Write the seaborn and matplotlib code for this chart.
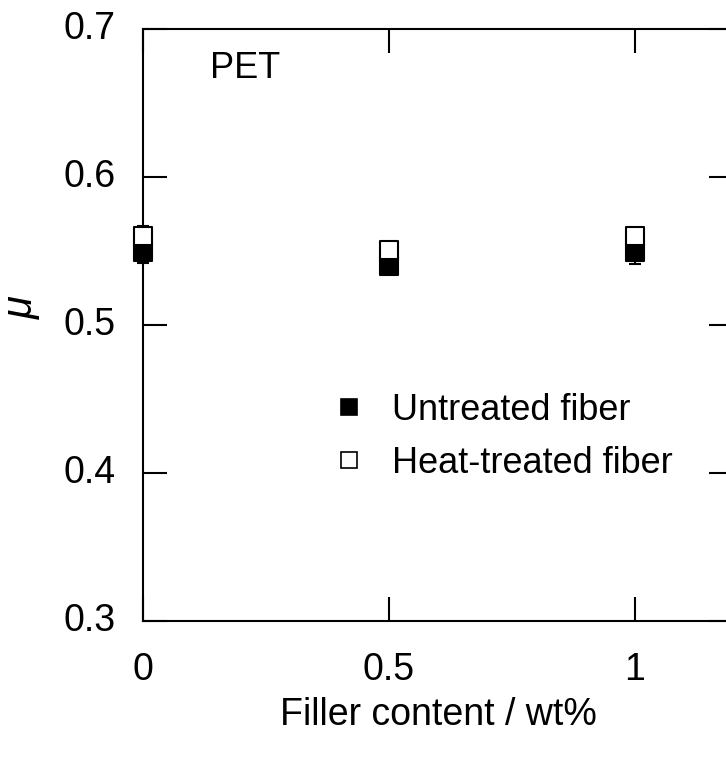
import matplotlib
matplotlib.use("Agg")
import matplotlib.pyplot as plt
import matplotlib.transforms as mtransforms
import seaborn as sns
import pandas as pd
from matplotlib.lines import Line2D

filler = [0.0, 0.5, 1.0]
untreated = [0.549, 0.540, 0.549]
untreated_err = [0.007, 0.003, 0.0075]
heat = [0.560, 0.551, 0.560]
heat_err = [0.007, 0.003, 0.004]
series_names = ["Untreated fiber", "Heat-treated fiber"]
xticks = [0, 0.5, 1]
xticklabels = ["0", "0.5", "1"]
yticks = [0.3, 0.4, 0.5, 0.6, 0.7]

sns.set_theme(style="white")
plt.rcParams['font.family'] = ['Liberation Sans', 'DejaVu Sans']

df = pd.DataFrame({
    "x": filler * 2,
    "mu": untreated + heat,
    "err": untreated_err + heat_err,
    "series": [series_names[0]] * 3 + [series_names[1]] * 3,
})

fig = plt.figure(figsize=(7.26, 7.58), dpi=100)
W, H = 726, 758
left, right, top, bottom = 143, 733, 29, 621
ax = fig.add_axes([left / W, 1 - bottom / H, (right - left) / W, (bottom - top) / H])

# error bars
for name in series_names:
    sub = df[df.series == name]
    eb = ax.errorbar(sub.x, sub.mu, yerr=sub.err, fmt='none', ecolor='black',
                     elinewidth=1.5, capsize=4, capthick=1.5, zorder=1)
    for part in eb.get_children():
        part.set_clip_on(False)

ms = 150
sns.scatterplot(data=df[df.series == series_names[0]], x="x", y="mu", marker='s',
                s=ms, color='black', edgecolor='black', linewidth=1.5, ax=ax, zorder=2,
                legend=False, clip_on=False)
sns.scatterplot(data=df[df.series == series_names[1]], x="x", y="mu", marker='s',
                s=ms, color='white', edgecolor='black', linewidth=1.5, ax=ax, zorder=3,
                legend=False, clip_on=False)

ax.set_xlim(0, 1.2)
ax.set_ylim(0.3, 0.7)
ax.set_xticks(xticks)
ax.set_xticklabels(xticklabels)
ax.set_yticks(yticks)
ax.set_yticklabels([f"{v:.1f}" for v in yticks])
ax.tick_params(direction='in', length=17, width=1.5, labelsize=27, pad=20,
               top=True, right=True, bottom=True, left=True, colors='black',
               labelcolor='black')
ax.tick_params(axis='x', pad=22)
for sp in ax.spines.values():
    sp.set_linewidth(1.5)
    sp.set_color('black')
    sp.set_visible(True)

# y tick labels sit a few pixels above their ticks in the reference
offset = mtransforms.ScaledTranslation(0, 3 / 72, fig.dpi_scale_trans)
for lab in ax.get_yticklabels():
    lab.set_transform(lab.get_transform() + offset)

ax.set_xlabel("Filler content / wt%", fontsize=27, labelpad=7, color='black')
ax.set_ylabel("μ", fontsize=30, style='italic', color='black')
ax.yaxis.set_label_coords(-0.171, 0.53)

ax.text(0.113, 0.962, "PET", transform=ax.transAxes, fontsize=26,
        va='top', ha='left', color='black')

handles = [
    Line2D([], [], marker='s', linestyle='none', markersize=11, markerfacecolor='black',
           markeredgecolor='black', markeredgewidth=1.2),
    Line2D([], [], marker='s', linestyle='none', markersize=11, markerfacecolor='white',
           markeredgecolor='black', markeredgewidth=1.2),
]
ax.legend(handles, series_names, loc='upper left', bbox_to_anchor=(0.268, 0.41),
          frameon=False, fontsize=26, handletextpad=0.3, labelspacing=0.5,
          borderaxespad=0, labelcolor='black', handlelength=1.83)

fig.savefig("out.png", dpi=100)
